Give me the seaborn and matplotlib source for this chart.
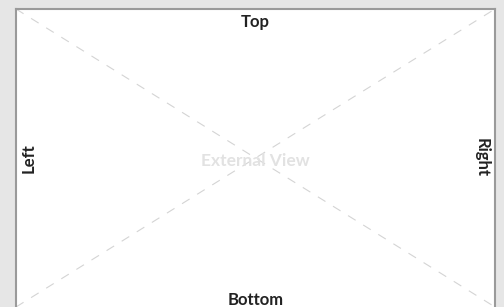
import numpy as np
import pandas as pd
import matplotlib
matplotlib.use("Agg")
import matplotlib.pyplot as plt
import seaborn as sns

sns.set_style("white")
plt.rcParams['font.family'] = ['Lato', 'DejaVu Sans']

# side labels and the placeholder caption
side_labels = ["Top", "Bottom", "Left", "Right"]
center_label = "External View"

# the two diagonals of the placeholder box
diag_x = [0, 1, 0, 1]
diag_y = [1, 0, 0, 1]
diag_id = ["a", "a", "b", "b"]

df = pd.DataFrame({"x": diag_x, "y": diag_y, "line": diag_id})

fig = plt.figure(figsize=(5.04, 3.07), dpi=100, facecolor="#e6e6e6")
ax = fig.add_axes([16/504, 0, (495-16)/504, 1 - 9/307])
ax.set_facecolor("white")

sns.lineplot(data=df, x="x", y="y", units="line", estimator=None,
             color="#d4d4d4", lw=0.8, dashes=False, ax=ax)
for l in ax.lines:
    l.set_linestyle((0, (8, 8)))

ax.set_xlim(0, 1)
ax.set_ylim(0, 1)
ax.set_xticks([])
ax.set_yticks([])
ax.set_xlabel("")
ax.set_ylabel("")

for side in ["left", "top", "right"]:
    ax.spines[side].set_visible(True)
    ax.spines[side].set_color("#9a9a9a")
    ax.spines[side].set_linewidth(1.5)
ax.spines["bottom"].set_visible(False)

txt = dict(fontsize=12, fontweight="bold", color="#222222", transform=ax.transAxes)
ax.text(0.5, 0.955, side_labels[0], ha="center", va="center", **txt)
ax.text(0.5, 0.025, side_labels[1], ha="center", va="center", **txt)
ax.text(0.026, 0.5, side_labels[2], ha="center", va="center", rotation=90, **txt)
ax.text(0.973, 0.5, side_labels[3], ha="center", va="center", rotation=270, **txt)
ax.text(0.5, 0.49, center_label, ha="center", va="center", fontsize=12.5,
        fontweight="bold", color="#e2e2e2", transform=ax.transAxes)

fig.savefig("out.png", dpi=100, facecolor=fig.get_facecolor())
